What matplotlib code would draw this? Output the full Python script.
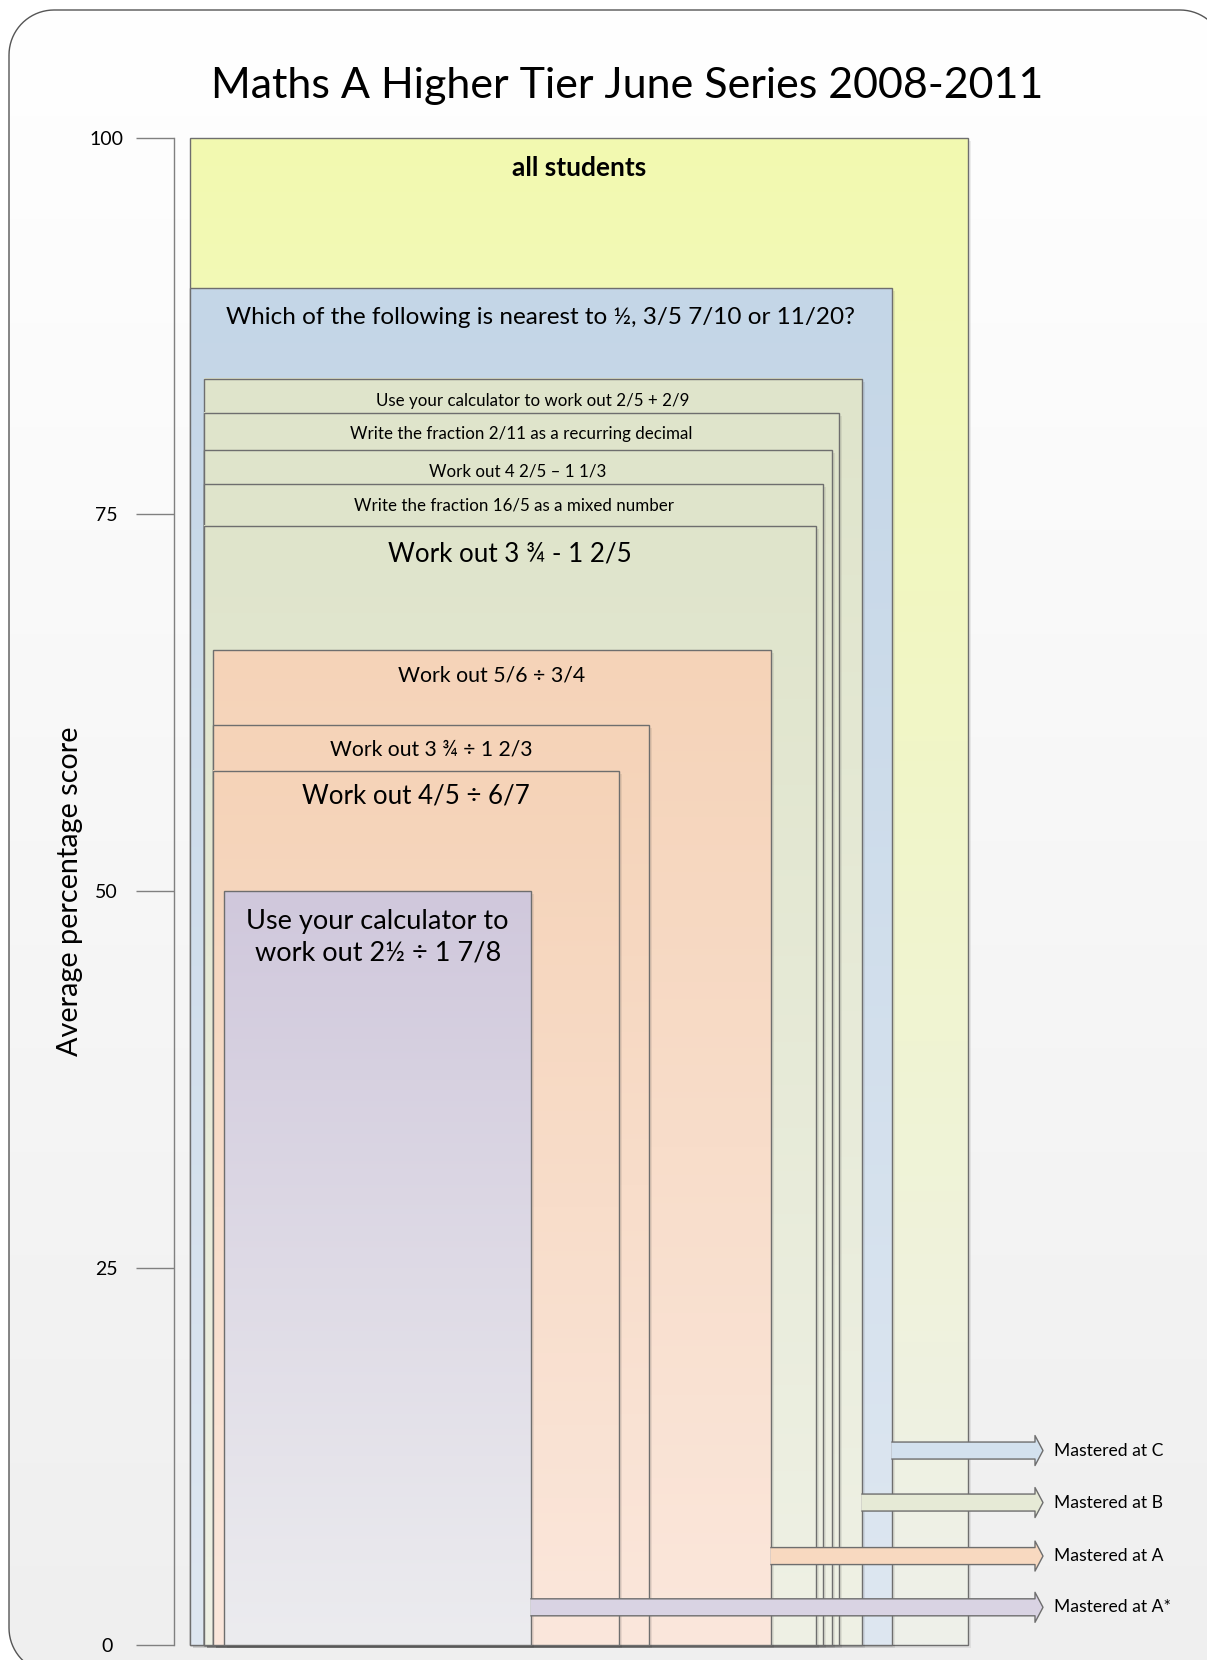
import numpy as np
import matplotlib
matplotlib.use('Agg')
import matplotlib.pyplot as plt
from matplotlib.patches import Rectangle, PathPatch, Polygon
from matplotlib.path import Path
from matplotlib.colors import to_rgb

plt.rcParams['font.family'] = ['Lato', 'DejaVu Sans']

# data
questions = [
    "all students",
    "Which of the following is nearest to ½, 3/5 7/10 or 11/20?",
    "Use your calculator to work out 2/5 + 2/9",
    "Write the fraction 2/11 as a recurring decimal",
    "Work out 4 2/5 – 1 1/3",
    "Write the fraction 16/5 as a mixed number",
    "Work out 3 ¾ - 1 2/5",
    "Work out 5/6 ÷ 3/4",
    "Work out 3 ¾ ÷ 1 2/3",
    "Work out 4/5 ÷ 6/7",
    "Use your calculator to\nwork out 2½ ÷ 1 7/8",
]
scores = [100, 90, 84, 81.75, 79.25, 77, 74.25, 66, 61, 58, 50]
grades = ["all", "C", "B", "B", "B", "B", "B", "A", "A", "A", "A*"]
arrow_grades = ["C", "B", "A", "A*"]
yticks = [0, 25, 50, 75, 100]

# layout (figure pixels) and styles
W, H = 1207, 1660
box_left = [190, 190, 204, 204, 204, 204, 204, 213, 213, 213, 224.5]
box_right = [968, 892, 862, 839, 832, 823, 816, 771, 649, 619, 531]
text_size = [19, 17.5, 12.2, 12.2, 12.2, 12.2, 18.7, 15.3, 15.2, 18.6, 19.5]
text_drop = [30, 29, 22, 21, 21, 21, 28, 25, 24, 25, 46]
grade_col = {
    "all": ("#f3fab0", "#eef0ea"),
    "C": ("#c4d6e7", "#dee7f1"),
    "B": ("#dfe4cb", "#eff1e5"),
    "A": ("#f5d3b8", "#fbe7dc"),
    "A*": ("#d0c8dc", "#ececef"),
}
arrow_col = {"C": "#d3e1ee", "B": "#e6ead6", "A": "#f8d9c0", "A*": "#d9d3e3"}
arrow_y = [12.9, 9.45, 5.9, 2.5]
edge = "#6e6e6e"


def gradient(ax, x0, x1, y0, y1, c_top, c_bot, z):
    t = np.linspace(0, 1, 256)[:, None, None]
    img = (1 - t) * np.array(to_rgb(c_top)) + t * np.array(to_rgb(c_bot))
    return ax.imshow(img, extent=(x0, x1, y0, y1), aspect='auto', origin='upper',
                     interpolation='bilinear', zorder=z)


def rounded_panel(x0, y0, x1, y1, r):
    # y grows downwards (pixel coords)
    verts = []
    for cx, cy, a0 in [(x0 + r, y0 + r, 180), (x1 - r, y0 + r, 270),
                       (x1 - r, y1 - r, 0), (x0 + r, y1 - r, 90)]:
        a = np.radians(np.linspace(a0, a0 + 90, 20))
        verts += list(zip(cx + r * np.cos(a), cy + r * np.sin(a)))
    verts.append(verts[0])
    return Path(verts)


fig = plt.figure(figsize=(W / 100, H / 100), dpi=100)
fig.patch.set_facecolor('white')

# rounded background panel
bg = fig.add_axes([0, 0, 1, 1], zorder=0)
bg.axis('off')
panel = PathPatch(rounded_panel(9, 10, 1225, 1673, 45), facecolor='none',
                  edgecolor='#555555', lw=1.0, zorder=2)
bg.add_patch(panel)
im = gradient(bg, 9, 1225, 1673, 10, "#ffffff", "#efefef", 1)
im.set_clip_path(panel)
bg.set_xlim(0, W)
bg.set_ylim(H, 0)

# main axes: x in pixels, y in percent
y_top, y_bot = 137.6, 1645
ax = fig.add_axes([174 / W, (H - y_bot) / H, (W - 174) / W, (y_bot - y_top) / H], zorder=1)
ax.patch.set_visible(False)
px = 100 / (y_bot - y_top)  # one pixel in y units

for i, (q, s, g) in enumerate(zip(questions, scores, grades)):
    x0, x1 = box_left[i], box_right[i]
    z = 2 + i
    ax.add_patch(Rectangle((x0 + 3, -3 * px), x1 - x0, s, facecolor='black', alpha=0.07,
                           lw=0, zorder=z, clip_on=False))
    gradient(ax, x0, x1, 0, s, grade_col[g][0], grade_col[g][1], z)
    ax.add_patch(Rectangle((x0, 0), x1 - x0, s, facecolor='none', edgecolor=edge,
                           lw=1.0, zorder=z, clip_on=False))
    ax.annotate(q, xy=((x0 + x1) / 2, s), xytext=(0, -text_drop[i] * 0.72),
                textcoords='offset points', ha='center', va='center',
                fontsize=text_size[i], fontweight='bold' if i == 0 else 'normal',
                linespacing=1.3, zorder=z + 0.5)

# "Mastered at" arrows
x_tip, head = 1043, 8
for g, y in zip(arrow_grades, arrow_y):
    xs = box_right[grades.index(g)]
    hs, hh = 8.5 * px, 15 * px
    xh = x_tip - head
    pts = [(xs, y + hs), (xh, y + hs), (xh, y + hh), (x_tip, y), (xh, y - hh), (xh, y - hs), (xs, y - hs)]
    ax.add_patch(Polygon(pts, closed=True, facecolor=arrow_col[g], edgecolor='none', zorder=20,
                         clip_on=False))
    ax.plot([p[0] for p in pts], [p[1] for p in pts], color=edge, lw=1.0, zorder=21,
            clip_on=False)
    ax.text(1054, y, "Mastered at " + g, ha='left', va='center', fontsize=12.6, zorder=21)

ax.set_xlim(174, W)
ax.set_ylim(0, 100)
for side in ['top', 'right', 'bottom']:
    ax.spines[side].set_visible(False)
ax.spines['left'].set_color('#808080')
ax.spines['left'].set_linewidth(1.0)
ax.set_xticks([])
ax.set_yticks(yticks)
ax.tick_params(axis='y', length=27.4, width=1.0, color='#808080', pad=21, labelsize=14)
plt.setp(ax.get_yticklabels(), ha='center')

fig.text(627 / W, 1 - 86 / H, "Maths A Higher Tier June Series 2008-2011",
         ha='center', va='center', fontsize=31)
fig.text(70 / W, 1 - 891 / H, "Average percentage score", rotation=90,
         ha='center', va='center', fontsize=20.7)

fig.savefig('out.png', dpi=100)
